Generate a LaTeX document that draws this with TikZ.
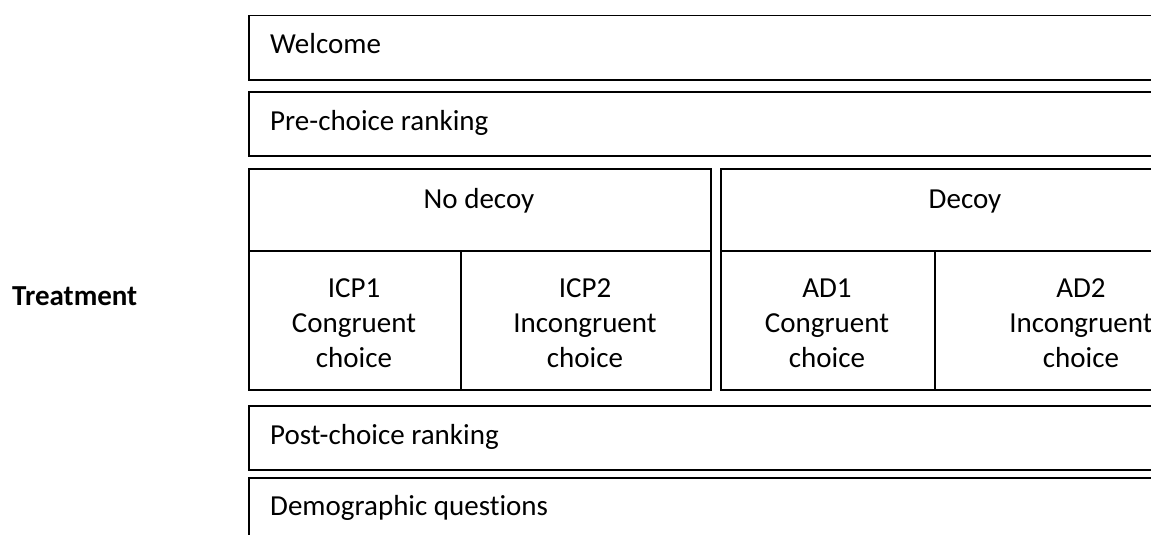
\documentclass[tikz,border=0pt]{standalone}
\usepackage{fontspec}
\setmainfont{Carlito}[Ligatures=NoCommon]
\begin{document}
\begin{tikzpicture}[x=1pt,y=-1pt,
    box/.style={draw,line width=1.5pt,inner sep=0pt,anchor=north west},
    lbl/.style={anchor=base west,inner sep=0pt,font=\fontsize{29}{35}\selectfont},
    cell/.style={anchor=base,inner sep=0pt,align=center,font=\fontsize{29}{35}\selectfont}]
    \useasboundingbox (0,0) rectangle (1151,535);
    \clip (0,0) rectangle (1151,535);
    % stages of the survey
    \node[box,minimum width=982pt,minimum height=64pt] (welcome) at (248,15) {};
    \node[box,minimum width=982pt,minimum height=64pt] (prerank) at (248,91) {};
    \node[box,minimum width=982pt,minimum height=64pt] (postrank) at (248,405) {};
    \node[box,minimum width=982pt,minimum height=80pt] (demo) at (248,477) {};
    \node[lbl] (welcometxt) at (270,54) {Welcome};
    \node[lbl] (preranktxt) at (270,130) {Pre-choice ranking};
    \node[lbl] (postranktxt) at (270,444) {Post-choice ranking};
    \node[lbl] (demotxt) at (270,515) {Demographic questions};
    % treatment arms
    \node[box,minimum width=462pt,minimum height=82pt] (nodecoy) at (248,168) {};
    \node[box,minimum width=212pt,minimum height=139pt] (icp1) at (248,250) {};
    \node[box,minimum width=250pt,minimum height=139pt] (icp2) at (460,250) {};
    \node[box,minimum width=495pt,minimum height=82pt] (decoy) at (720,168) {};
    \node[box,minimum width=214pt,minimum height=139pt] (ad1) at (720,250) {};
    \node[box,minimum width=281pt,minimum height=139pt] (ad2) at (934,250) {};
    \node[cell] (nodecoytxt) at (479,208) {No decoy};
    \node[cell] (decoytxt) at (965,208) {Decoy};
    % base of a multi-line cell is its last line
    \node[cell] (icp1txt) at (354,367) {ICP1\\Congruent\\choice};
    \node[cell] (icp2txt) at (585,367) {ICP2\\Incongruent\\choice};
    \node[cell] (ad1txt) at (827,367) {AD1\\Congruent\\choice};
    \node[cell] (ad2txt) at (1081,367) {AD2\\Incongruent\\choice};
    \node[lbl,font=\fontsize{29}{35}\selectfont\bfseries] (treat) at (12,305) {Treatment};
\end{tikzpicture}
\end{document}
